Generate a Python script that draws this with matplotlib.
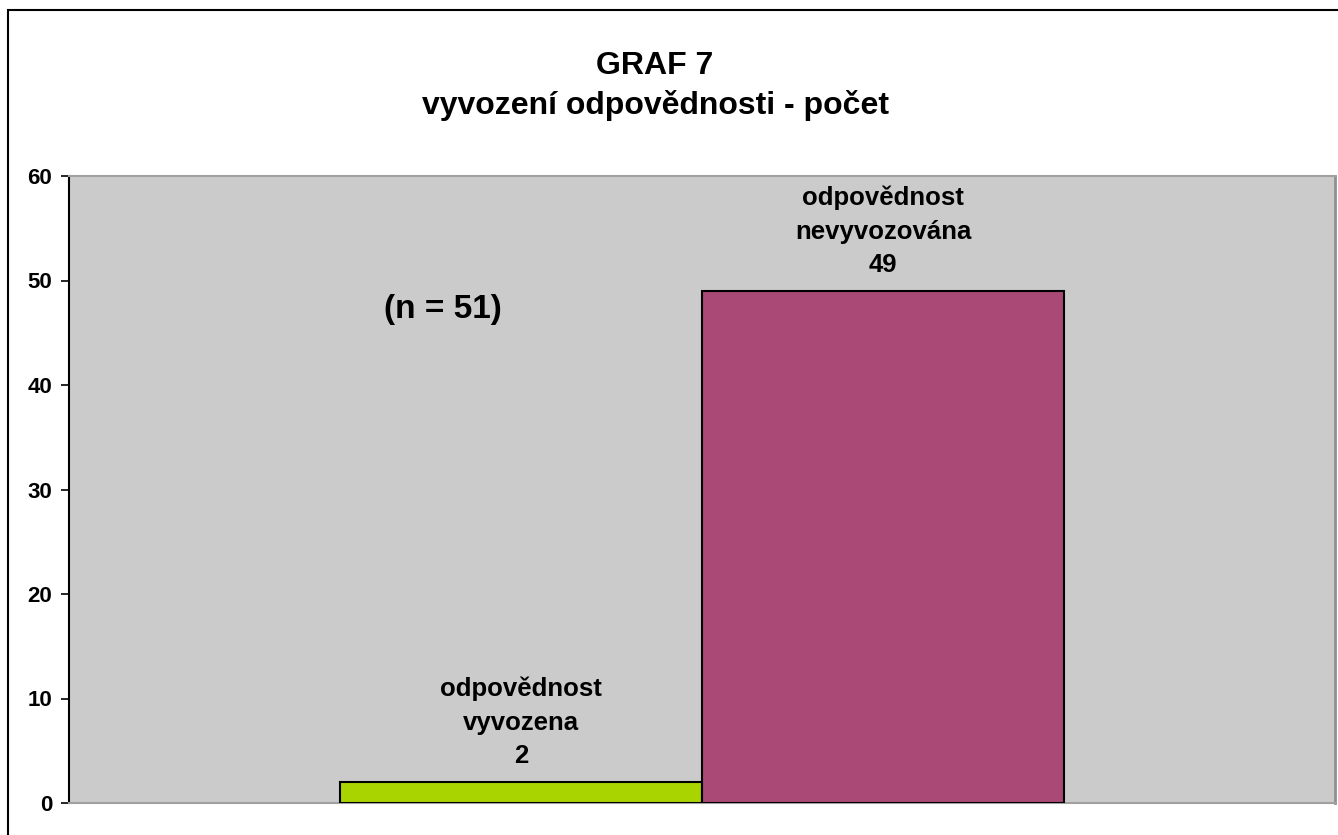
import matplotlib
matplotlib.use("Agg")
import matplotlib.pyplot as plt
from matplotlib.patches import Rectangle

# data
labels = ["odpovědnost\nvyvozena", "odpovědnost\nnevyvozována"]
values = [2, 49]
colors = ["#AAD400", "#AA4876"]
yticks = [0, 10, 20, 30, 40, 50, 60]
note = "(n = 51)"
title = "GRAF 7\nvyvození odpovědnosti - počet"

plt.rcParams['font.family'] = ['Liberation Sans', 'DejaVu Sans']
plt.rcParams['font.weight'] = 'bold'

fig = plt.figure(figsize=(13.38, 8.35), dpi=100)
ax = fig.add_axes([69 / 1338, 32 / 835, 1266 / 1338, 627 / 835])
ax.set_facecolor("#CBCBCB")

# one category, two series side by side (excel clustered column)
w = 362 / 1266
for i, (lab, v, c) in enumerate(zip(labels, values, colors)):
    x = 0.5 + (i - 0.5) * w
    ax.bar(x, v, width=w, color=c, edgecolor="black", linewidth=1.5, zorder=3)
    ax.annotate(f"{lab}\n{v}", (x, v), xytext=(0, 10), textcoords="offset points",
                ha="center", va="bottom", fontsize=18.5, fontweight="bold",
                linespacing=1.5)

ax.text(0.2954, 47.2, note, ha="center", va="center", fontsize=24, fontweight="bold")

ax.set_xlim(0, 1)
ax.set_ylim(0, 60)
ax.set_yticks(yticks)
ax.set_xticks([])
ax.tick_params(axis="y", direction="out", length=6, width=1.2, labelsize=16, pad=6)
for lbl in ax.get_yticklabels():
    lbl.set_fontweight("bold")

ax.spines["left"].set_color("black")
ax.spines["left"].set_linewidth(1.5)
for s in ["top", "bottom"]:
    ax.spines[s].set_color("#A0A0A0")
    ax.spines[s].set_linewidth(1.5)
ax.spines["right"].set_color("#909090")
ax.spines["right"].set_linewidth(2)

fig.text(655 / 1338, 1 - 86 / 835, title, ha="center", va="center",
         fontsize=23, fontweight="bold", linespacing=1.4)

# chart border (right/bottom edges fall outside the image)
fig.patches.append(Rectangle((8 / 1338, -0.1), 1.2, 1 - 10 / 835 + 0.1,
                             transform=fig.transFigure, fill=False,
                             edgecolor="black", linewidth=1.5))

fig.savefig("out.png", dpi=100)
